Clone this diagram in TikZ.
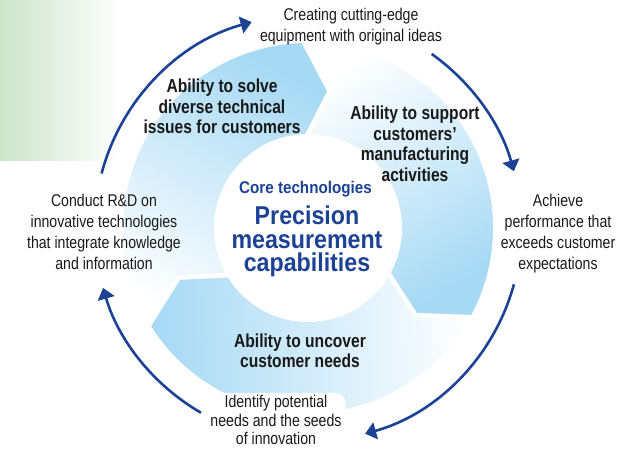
\documentclass[tikz,border=0pt]{standalone}
\usepackage{fontspec}
\setmainfont{Liberation Sans}[FakeStretch=0.83]
\newfontfamily\titlefont{Liberation Sans}[FakeStretch=0.9]
\usetikzlibrary{arrows.meta}
\definecolor{ringblue}{RGB}{166,217,244}
\definecolor{navy}{RGB}{28,66,150}
\definecolor{leaf}{RGB}{204,228,202}
\definecolor{ink}{RGB}{25,25,25}
\begin{document}
\begin{tikzpicture}[x=1pt,y=1pt,
  lbl/.style={align=center, inner sep=0pt, text=ink, font=\fontsize{17}{21}\selectfont},
  capt/.style={align=center, inner sep=0pt, text=ink, font=\bfseries\fontsize{18.8}{20.5}\selectfont},
  halo/.style={fill=white, inner xsep=4pt, inner ysep=2pt, rounded corners=10pt},
  flow/.style={draw=navy, line width=2.6pt, -{Triangle[length=11pt,width=17pt]}},
  gapline/.style={draw=white, line width=4.5pt, line join=miter},
  seg/.style={top color=ringblue, bottom color=white},
]
\useasboundingbox (0,0) rectangle (637,448);
% green background corner
\shade[left color=leaf, right color=white] (0,288) rectangle (122,448);

\begin{scope}[shift={(308,220)}]
  % top-left segment
  \shade[seg, shading angle=-28.5]
    (211.5:185) arc[start angle=211.5, end angle=91.5, radius=185] -- (81:138.5)
    -- (91.5:92) arc[start angle=91.5, end angle=211.5, radius=92] -- (201:138.5) -- cycle;
  % right segment
  \shade[seg, shading angle=-148.5]
    (91.5:185) arc[start angle=91.5, end angle=-28.5, radius=185] -- (-39:138.5)
    -- (-28.5:92) arc[start angle=-28.5, end angle=91.5, radius=92] -- (81:138.5) -- cycle;
  % bottom segment
  \shade[seg, shading angle=91.5]
    (-28.5:185) arc[start angle=-28.5, end angle=-148.5, radius=185] -- (-159:138.5)
    -- (-148.5:92) arc[start angle=-148.5, end angle=-28.5, radius=92] -- (-39:138.5) -- cycle;
  % white gaps between segments
  \foreach \a/\b in {91.5/81, -28.5/-39, 211.5/201}
    \draw[gapline] (\a:187) -- (\b:138.5) -- (\a:90);
  % central disk
  \fill[white] (0,0) circle[radius=94];

  % cycle arrows
  \coordinate (a1s) at (165.2:213.5);
  \coordinate (a2s) at (54.6:213.5);
  \coordinate (a3s) at (-15.3:213.5);
  \coordinate (a4s) at (239.9:213.5);
\end{scope}

% labels
\node[lbl] (create) at (351,421.5) {Creating cutting-edge\\equipment with original ideas};
\node[capt] (solve) at (222,341.5) {Ability to solve\\diverse technical\\issues for customers};
\node[capt] (support) at (415,304) {Ability to support\\customers’\\manufacturing\\activities};
\node[lbl] (achieve) at (558,214.5) {Achieve\\performance that\\exceeds customer\\expectations};
\node[lbl] (conduct) at (104,216) {Conduct R\&D on\\innovative technologies\\that integrate knowledge\\and information};
\node[capt] (uncover) at (300,97) {Ability to uncover\\customer needs};
\node[lbl, halo, font=\fontsize{17}{18.8}\selectfont] (identify) at (276,28) {Identify potential\\needs and the seeds\\of innovation};

\node[inner sep=0pt, text=navy, font=\titlefont\bfseries\fontsize{16.9}{20}\selectfont] (core) at (305.5,259) {Core technologies};
\node[align=center, inner sep=0pt, text=navy, font=\titlefont\bfseries\fontsize{25.8}{23.5}\selectfont] (prec) at (307,206.5) {Precision\\measurement\\capabilities};

\begin{scope}[shift={(308,220)}]
  \draw[flow] (a1s) arc[start angle=165.2, end angle=105.3, radius=213.5];
  \draw[flow] (a2s) arc[start angle=54.6, end angle=15.4, radius=213.5];
  \draw[flow] (a3s) arc[start angle=-15.3, end angle=-74.5, radius=213.5];
  \draw[flow] (a4s) arc[start angle=239.9, end angle=196.3, radius=213.5];
\end{scope}
\end{tikzpicture}
\end{document}
